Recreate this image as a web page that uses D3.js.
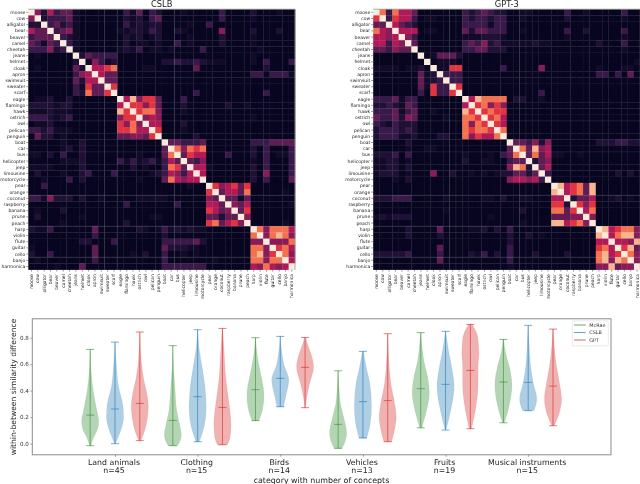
<!DOCTYPE html>
<html><head><meta charset="utf-8">
<script src="https://cdnjs.cloudflare.com/ajax/libs/d3/7.8.5/d3.min.js"></script>
<style>
html,body{margin:0;padding:0;background:#fff}
svg{display:block;font-family:"DejaVu Sans",sans-serif;filter:blur(0.4px)}
</style></head><body><div id="c"></div>
<script>
const concepts = ["moose","cow","alligator","bear","beaver","camel","cheetah","jeans","helmet","cloak","apron","swimsuit","sweater","scarf","eagle","flamingo","hawk","ostrich","owl","pelican","penguin","boat","car","bus","helicopter","jeep","limousine","motorcycle","pear","orange","coconut","raspberry","banana","prune","peach","harp","violin","flute","guitar","cello","banjo","harmonica"];
const levels = [0,.04,.09,.17,.26,.36,.46,.58,.7,.83,1];
const cslbRows = [
"a526344 1000000 0314032 0001000 0030000 2000100",
"5a23334 1000000 0212034 0000000 0030000 1000000",
"22a3423 1000000 0312122 0000100 3000000 0000000",
"644a345 1000000 1122132 0021000 0050000 2000200",
"3444a32 1000000 0212012 0000100 0020000 1000000",
"43143a3 1000000 0201101 0030100 0020000 1000000",
"333523a 1000000 1213011 0100003 0000000 0100000",
"0100000 a243333 0000000 0000000 0000000 1000000",
"0000000 2a15312 0000000 2232232 1110000 1030003",
"0100000 42a6678 0000110 0000040 0000000 0020000",
"0000000 356a644 0000000 0000000 0000000 3303331",
"0000000 4266a44 0000000 0000000 0000000 0000000",
"0000000 31744a7 0000000 0000000 0000000 0000000",
"0000000 328447a 0000000 0000030 0000000 0030000",
"0112002 0000000 a695774 0003000 0000000 0000000",
"2222122 0000000 6a77574 0002000 0002001 0000000",
"1112111 0000000 97a7885 0001000 0000000 0000000",
"3332123 0000000 577a565 0000000 0000000 1000000",
"0112000 0000000 7585a66 0002000 0000000 0000000",
"3323111 0000000 77866a7 0001000 0000000 0000000",
"0422010 0000000 445547a 0000020 0000000 0000000",
"0000010 0200000 0000000 a443334 0000000 3334444",
"0000012 0200000 0000000 4a85878 0000000 2030003",
"1102030 0200000 0001000 48a4766 0003000 2030113",
"0000011 1200000 3131231 364a435 0000000 1030003",
"1111000 0200000 0020100 3874a66 1000000 2030003",
"0200010 0230003 0000012 36536a6 0000000 2050003",
"0010003 0200000 0001000 486566a 0000000 2030004",
"0030000 0000000 0000000 0000100 a756747 0000000",
"0000000 0000000 0000000 0000000 7a46648 0000010",
"3315222 0200100 0001111 1000000 54a4414 0000000",
"0000000 0000000 0300000 0030000 664a546 0000001",
"0100020 0000000 0000000 0000000 7645a47 0000000",
"0200000 0100000 0000011 0000000 44244a5 0000000",
"0000010 0000000 0200000 0000000 784675a 0000010",
"2113000 0004000 0002101 3121211 0000000 a858886",
"0000000 0003000 0000000 2000000 0000000 8a58985",
"0000000 0220003 0000000 3333342 0000000 55a5558",
"1000000 0004000 0000000 4222110 0000000 885a786",
"2003000 0004000 0010200 3001010 0000000 8957a85",
"0100000 0003000 0000000 3000000 0100000 88588a6",
"0000100 0400000 0000000 3333333 0000000 658656a"];
const gptRows = [
"a838664 0000000 3234322 0011000 0030010 0000300",
"7a37663 0110000 3233233 0010000 0020000 0000100",
"44a6432 0000000 3333133 0000000 0000000 0000000",
"865a666 0110000 4244333 0010000 0030020 0000300",
"6656a53 0000000 1112221 0000000 0010000 0000100",
"66365a4 0000000 3435231 1111211 0000000 2000300",
"443544a 0000000 3344222 0000000 0000000 0000100",
"0000000 a014442 0000000 0000000 0000000 0000000",
"0000000 0a01110 0000000 0000000 0000000 0000001",
"1111011 20a1177 0000003 0000050 0000000 1000110",
"0000000 412a333 0000000 0000000 0000000 3303040",
"0000000 4123a33 0000000 0000000 0000000 0000000",
"0000000 41733a7 0000000 0000000 0000000 0000000",
"0000000 307337a 0000000 0000030 0000000 0000000",
"3334133 0000000 a698888 0220010 0000000 0000000",
"2232143 0000000 6a78575 0000000 0000000 0000000",
"3334134 0010000 97a7877 0000000 0000000 0000000",
"4334254 0000100 887a786 0000000 0000000 0000000",
"3213222 0000000 8587a76 0000000 0000000 0000000",
"2333232 0000000 87887a8 0000000 0000000 0000000",
"2333112 0002200 857668a 0000000 0000000 0000000",
"0000020 0000000 0000000 a443525 0000000 2223322",
"0000010 0110000 0000000 4a84956 0000000 0000000",
"2223030 0000000 1000103 48a4846 1100100 0000000",
"1122010 0000000 2001100 344a245 0000000 0000000",
"1122020 0000000 0000000 5982a46 0000000 0000000",
"1222010 0050020 0101012 24424a3 0000000 0002020",
"0001020 0000000 0000000 566563a 0000000 0000000",
"0000000 0000000 0000000 0000000 a967849 0000000",
"0000000 0000000 0000000 0000000 9a67849 0000000",
"2223330 0000100 0001102 0011000 66a2446 0012010",
"0000000 0000000 0000000 0000000 772a757 0000000",
"0000000 0000100 0000000 0020000 8847a68 0000000",
"1212220 0000000 0000100 0000000 44455a5 0000000",
"0000000 0000000 0000000 0010000 996785a 0000000",
"0000020 0004000 0112020 3000000 0000000 a967885",
"0000020 0002000 0000000 2002010 0000000 9a68995",
"0000000 0000000 0000000 2000000 0000000 66a6659",
"0000000 0004000 0000000 3000000 0000000 786a794",
"2222230 0003000 0213020 3000200 0020000 8967a85",
"0000000 0004000 0000000 3000000 0000000 89598a5",
"0000000 0000000 0000000 1000000 0000000 559455a"];
const cslbSeamCols = [12,14,23,24];
const gptSeamCols = [12,13,23,24];
const seamRows = [18,23,30,35,40];

const categories = ["Land animals","Clothing","Birds","Vehicles","Fruits","Musical instruments"];
const counts = [45,15,14,13,19,15];
const seriesNames = ["McRae","CSLB","GPT"];
const seriesColors = ["#2e8b2e","#1f77b4","#d62728"];
const mcraeMin = [-.015,-.015,.174,-.035,.12,.158];
const mcraeMed = [.216,.176,.408,.146,.415,.465];
const mcraeMax = [.712,.74,.8,.55,.838,.787];
const cslbMin = [0,.015,.279,.043,.103,.249];
const cslbMed = [.262,.355,.493,.317,.448,.463];
const cslbMax = [.767,.86,.81,.697,.848,.893];
const gptMin = [.023,-.008,.272,.015,.113,.136];
const gptMed = [.304,.274,.576,.325,.553,.435];
const gptMax = [.843,.87,.802,.83,.90,.865];
// [value, relative width]
const mcraeShapes = [
 [[-.015,.08],[.05,.42],[.1,.8],[.17,1],[.25,.78],[.35,.48],[.45,.25],[.58,.08],[.712,.02]],
 [[-.015,.55],[.03,.9],[.065,1],[.15,.78],[.25,.45],[.35,.32],[.43,.24],[.58,.08],[.74,.01]],
 [[.174,.4],[.25,.8],[.37,1],[.5,.7],[.6,.38],[.7,.15],[.8,.02]],
 [[-.035,.45],[.02,.85],[.08,1],[.2,.65],[.3,.28],[.4,.13],[.55,.02]],
 [[.12,.12],[.25,.68],[.38,1],[.5,.82],[.62,.38],[.75,.13],[.838,.02]],
 [[.158,.12],[.3,.72],[.44,1],[.58,.7],[.68,.28],[.787,.03]]];
const cslbShapes = [
 [[0,.06],[.05,.38],[.13,.82],[.2,1],[.3,.9],[.43,.42],[.58,.18],[.767,.02]],
 [[.015,.2],[.08,.55],[.18,.9],[.28,1],[.43,.86],[.58,.52],[.73,.16],[.86,.02]],
 [[.279,.4],[.35,.62],[.48,1],[.6,.42],[.7,.16],[.81,.02]],
 [[.043,.45],[.15,.85],[.28,1],[.45,.82],[.55,.48],[.697,.06]],
 [[.103,.06],[.25,.6],[.43,1],[.55,.8],[.7,.36],[.848,.02]],
 [[.249,.65],[.3,.93],[.34,1],[.45,.62],[.6,.26],[.75,.12],[.893,.02]]];
const gptShapes = [
 [[.023,.12],[.1,.58],[.2,.9],[.28,1],[.38,.82],[.5,.42],[.63,.16],[.843,.02]],
 [[-.008,.6],[.05,.9],[.14,1],[.35,.68],[.5,.38],[.63,.26],[.78,.12],[.87,.02]],
 [[.272,.04],[.35,.2],[.45,.52],[.58,1],[.68,.68],[.75,.3],[.802,.06]],
 [[.015,.45],[.1,.78],[.2,1],[.3,.82],[.45,.38],[.6,.16],[.83,.02]],
 [[.113,.14],[.25,.58],[.45,.9],[.58,.9],[.68,1],[.8,.88],[.9,.22]],
 [[.136,.14],[.22,.68],[.34,1],[.45,.78],[.6,.38],[.75,.13],[.865,.03]]];
const yTicks = [0,.2,.4,.6,.8];

const svg = d3.select("#c").append("svg").attr("width",640).attr("height",484);
const rocket = d3.scaleLinear()
  .domain([0,.08,.18,.3,.45,.58,.7,.83,1])
  .range(["#07051f","#1c0f33","#3c1a4c","#701f57","#ad1759","#e13342","#f3714e","#f6b48f","#faebdd"]);

function heatmap(title,rows,seamCols,x0,x1){
  const y0=9.2,y1=269.6;
  const xs=d3.scaleBand().domain(concepts).range([x0,x1]);
  const ys=d3.scaleBand().domain(concepts).range([y0,y1]);
  const g=svg.append("g");
  rows.forEach((r,i)=>{
    const vals=r.replace(/ /g,"").split("").map(c=>levels[parseInt(c,16)]);
    g.selectAll(null).data(vals).join("rect")
      .attr("x",(d,j)=>xs(concepts[j])).attr("y",ys(concepts[i]))
      .attr("width",xs.bandwidth()+.3).attr("height",ys.bandwidth()+.3)
      .attr("fill",d=>rocket(d));
  });
  seamCols.forEach(k=>g.append("line").attr("x1",xs(concepts[k])).attr("x2",xs(concepts[k]))
    .attr("y1",y0).attr("y2",y1).attr("stroke","#fff").attr("stroke-opacity",.14).attr("stroke-width",.7));
  seamRows.forEach(k=>g.append("line").attr("y1",ys(concepts[k])).attr("y2",ys(concepts[k]))
    .attr("x1",x0).attr("x2",x1).attr("stroke","#fff").attr("stroke-opacity",.14).attr("stroke-width",.7));
  g.append("path").attr("d",`M${x0},${y0}H${x1}V${y1}`).attr("fill","none").attr("stroke","#999").attr("stroke-width",.8);
  const ax=svg.append("g").attr("transform",`translate(${x0},0)`)
    .call(d3.axisLeft(ys).tickSize(2).tickPadding(1));
  const bx=svg.append("g").attr("transform",`translate(0,${y1})`)
    .call(d3.axisBottom(xs).tickSize(2).tickPadding(2));
  [ax,bx].forEach(a=>{a.select(".domain").remove();
    a.selectAll("text").attr("font-size",4.5).attr("fill","#222").attr("font-family","DejaVu Sans");
    a.selectAll("line").attr("stroke","#333").attr("stroke-width",.5);});
  bx.selectAll("text").attr("transform","rotate(-90)").attr("text-anchor","end")
    .attr("x",-4.5).attr("y",0).attr("dy","0.32em");
  svg.append("text").attr("x",(x0+x1)/2).attr("y",6.8).attr("text-anchor","middle")
    .attr("font-size",8.3).attr("fill","#222").text(title);
}
heatmap("CSLB",cslbRows,cslbSeamCols,28.3,295);
heatmap("GPT-3",gptRows,gptSeamCols,373.2,640.3);

// violins
const L=32.3,R=611,T=318.8,B=454.8;
const yV=d3.scaleLinear().domain([0,.8]).range([443.7,337.7]);
const xC=d3.scaleLinear().domain([0,5]).range([115,528.2]);
const offset=d3.scalePoint().domain(seriesNames).range([-24.8,24.8]);
const widthV=d3.scaleLinear().domain([0,1]).range([0,8.6]);
const capW=4;
const mins=[mcraeMin,cslbMin,gptMin],meds=[mcraeMed,cslbMed,gptMed],maxs=[mcraeMax,cslbMax,gptMax],shapes=[mcraeShapes,cslbShapes,gptShapes];
const frame=svg.append("g");
seriesNames.forEach((s,si)=>{
  const col=seriesColors[si];
  categories.forEach((c,ci)=>{
    const cx=xC(ci)+offset(s);
    const area=d3.area().y(d=>yV(d[0])).x0(d=>cx-widthV(d[1])).x1(d=>cx+widthV(d[1])).curve(d3.curveMonotoneY);
    svg.append("path").datum(shapes[si][ci]).attr("d",area).attr("fill",col).attr("fill-opacity",.36)
      .attr("stroke",col).attr("stroke-opacity",.12).attr("stroke-width",.5);
    const ln=(x1,y1,x2,y2)=>svg.append("line").attr("x1",x1).attr("y1",y1).attr("x2",x2).attr("y2",y2)
      .attr("stroke",col).attr("stroke-opacity",.6).attr("stroke-width",1);
    ln(cx,yV(mins[si][ci]),cx,yV(maxs[si][ci]));
    [mins,meds,maxs].forEach(a=>ln(cx-capW,yV(a[si][ci]),cx+capW,yV(a[si][ci])));
  });
});
frame.append("rect").attr("x",L).attr("y",T).attr("width",R-L).attr("height",B-T)
  .attr("fill","none").attr("stroke","#8c8c8c").attr("stroke-width",1);
const ay=svg.append("g").attr("transform",`translate(${L},0)`)
  .call(d3.axisLeft(yV).tickValues(yTicks).tickFormat(d3.format(".1f")).tickSize(2).tickPadding(1.5));
ay.select(".domain").remove();
ay.selectAll("text").attr("font-size",5.6).attr("fill","#333").attr("font-family","DejaVu Sans");
ay.selectAll("line").attr("stroke","#555").attr("stroke-width",.5);
const ax=svg.append("g").attr("transform",`translate(0,${B})`)
  .call(d3.axisBottom(xC).tickValues(d3.range(6)).tickFormat(()=>"").tickSize(2));
ax.select(".domain").remove();
ax.selectAll("line").attr("stroke","#555").attr("stroke-width",.5);
categories.forEach((c,i)=>{
  const t=svg.append("text").attr("text-anchor","middle").attr("font-size",7.8).attr("fill","#222");
  t.append("tspan").attr("x",xC(i)-1).attr("y",464.5).text(c);
  t.append("tspan").attr("x",xC(i)-1).attr("y",473.2).text("n="+counts[i]);
});
svg.append("text").attr("x",321.5).attr("y",482.5).attr("text-anchor","middle").attr("font-size",7.9).attr("fill","#222")
  .text("category with number of concepts");
svg.append("text").attr("transform","translate(16,387) rotate(-90)").attr("text-anchor","middle")
  .attr("font-size",7.6).attr("fill","#222").text("within-between similarity difference");
// legend
svg.append("rect").attr("x",572.3).attr("y",320.8).attr("width",36).attr("height",25).attr("rx",1)
  .attr("fill","#fff").attr("stroke","#ddd").attr("stroke-width",.6);
const legY=d3.scalePoint().domain(seriesNames).range([325,340]);
seriesNames.forEach((s,i)=>{
  svg.append("line").attr("x1",574).attr("x2",585.7).attr("y1",legY(s)).attr("y2",legY(s))
    .attr("stroke",seriesColors[i]).attr("stroke-opacity",.65).attr("stroke-width",1.1);
  svg.append("text").attr("x",589.3).attr("y",legY(s)+1.8).attr("font-size",4.9).attr("fill","#333").text(s);
});
</script></body></html>
